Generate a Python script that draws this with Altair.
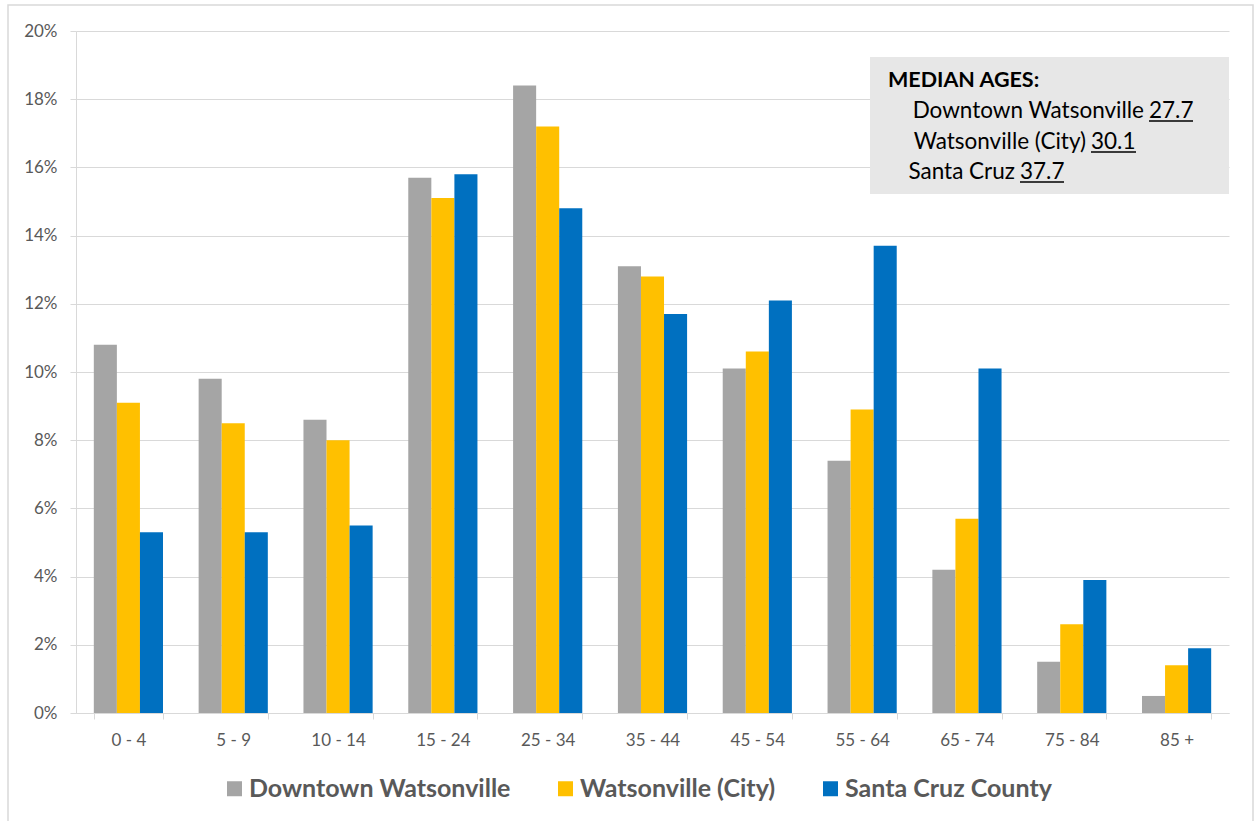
import altair as alt
import pandas as pd

# Age bands and population shares (percent of total population)
age_groups = ["0 - 4", "5 - 9", "10 - 14", "15 - 24", "25 - 34", "35 - 44",
              "45 - 54", "55 - 64", "65 - 74", "75 - 84", "85 +"]
series = ["Downtown Watsonville", "Watsonville (City)", "Santa Cruz County"]
downtown = [10.8, 9.8, 8.6, 15.7, 18.4, 13.1, 10.1, 7.4, 4.2, 1.5, 0.5]
city = [9.1, 8.5, 8.0, 15.1, 17.2, 12.8, 10.6, 8.9, 5.7, 2.6, 1.4]
county = [5.3, 5.3, 5.5, 15.8, 14.8, 11.7, 12.1, 13.7, 10.1, 3.9, 1.9]
series_colors = ["#a5a5a5", "#ffc000", "#0070c0"]

# Median ages shown in the callout box
median_title = "MEDIAN AGES:"
median_places = ["Downtown Watsonville", "Watsonville (City)", "Santa Cruz"]
median_ages = ["27.7", "30.1", "37.7"]

y_ticks = [0.0, 0.02, 0.04, 0.06, 0.08, 0.10, 0.12, 0.14, 0.16, 0.18, 0.20]

rows = []
for name, vals in zip(series, [downtown, city, county]):
    for age, v in zip(age_groups, vals):
        rows.append({"age": age, "series": name, "share": v / 100.0})
df = pd.DataFrame(rows)

FONT = "Lato"
W, H = 1153, 682

bars = alt.Chart(df).mark_bar().encode(
    x=alt.X("age:N", sort=age_groups,
            scale=alt.Scale(paddingInner=0.34, paddingOuter=0.17),
            axis=alt.Axis(title=None, labelAngle=0, tickBand="extent",
                          labelFontSize=17, labelColor="#595959", labelFont=FONT,
                          labelPadding=13, tickSize=6, tickColor="#d9d9d9",
                          domainColor="#d9d9d9", grid=False)),
    xOffset=alt.XOffset("series:N", sort=series,
                        scale=alt.Scale(paddingInner=0, paddingOuter=0)),
    y=alt.Y("share:Q", scale=alt.Scale(domain=[0, 0.2]),
            axis=alt.Axis(title=None, values=y_ticks, format=".0%",
                          labelFontSize=17, labelColor="#595959", labelFont=FONT,
                          labelPadding=13, tickSize=6, tickColor="#d9d9d9",
                          domainColor="#d9d9d9", gridColor="#d9d9d9")),
    color=alt.Color("series:N", sort=series,
                    scale=alt.Scale(domain=series, range=series_colors),
                    legend=alt.Legend(title=None, orient="none", direction="horizontal",
                                      legendX=146, legendY=745, padding=0,
                                      symbolType="square", symbolSize=225,
                                      symbolStrokeWidth=0, labelFontSize=25,
                                      labelFont=FONT, labelFontWeight="bold",
                                      labelColor="#595959", labelOffset=2,
                                      columnPadding=42, labelLimit=400)),
)

one = pd.DataFrame({"k": [0]})

# Thin frame around the whole figure
frame = alt.Chart(one).mark_rect(fill="transparent", stroke="#d9d9d9",
                                 strokeWidth=1.5).encode(
    x=alt.value(-68), x2=alt.value(1177), y=alt.value(-26), y2=alt.value(830))

# Callout box with median ages
box = alt.Chart(one).mark_rect(fill="#e7e7e7").encode(
    x=alt.value(794), x2=alt.value(1153), y=alt.value(26), y2=alt.value(163))

title_txt = alt.Chart(one).mark_text(
    text=median_title, font=FONT, fontSize=21.5, fontWeight="bold", color="black",
    align="left", baseline="alphabetic").encode(x=alt.value(812), y=alt.value(56))

callout = [frame, box, title_txt]
line_baselines = [87, 118, 148]
number_lefts = [1073, 1015, 944]
number_rights = [1117, 1060, 988]
for place, age, yb, xl, xr in zip(median_places, median_ages, line_baselines,
                                  number_lefts, number_rights):
    callout.append(alt.Chart(one).mark_text(
        text=place, font=FONT, fontSize=22.5, color="black",
        align="right", baseline="alphabetic").encode(x=alt.value(xl - 5), y=alt.value(yb)))
    callout.append(alt.Chart(one).mark_text(
        text=age, font=FONT, fontSize=22.5, color="black",
        align="left", baseline="alphabetic").encode(x=alt.value(xl), y=alt.value(yb)))
    callout.append(alt.Chart(one).mark_rule(color="black", strokeWidth=1.5).encode(
        x=alt.value(xl), x2=alt.value(xr), y=alt.value(yb + 3)))

chart = alt.layer(*callout[:1], bars, *callout[1:]).properties(
    width=W, height=H,
    autosize=alt.AutoSizeParams(type="none"),
    padding={"left": 76, "top": 31, "right": 25, "bottom": 108},
    background="white",
).configure_view(stroke="transparent")

chart.save("out.html", embed_options={"renderer": "svg", "actions": False})
